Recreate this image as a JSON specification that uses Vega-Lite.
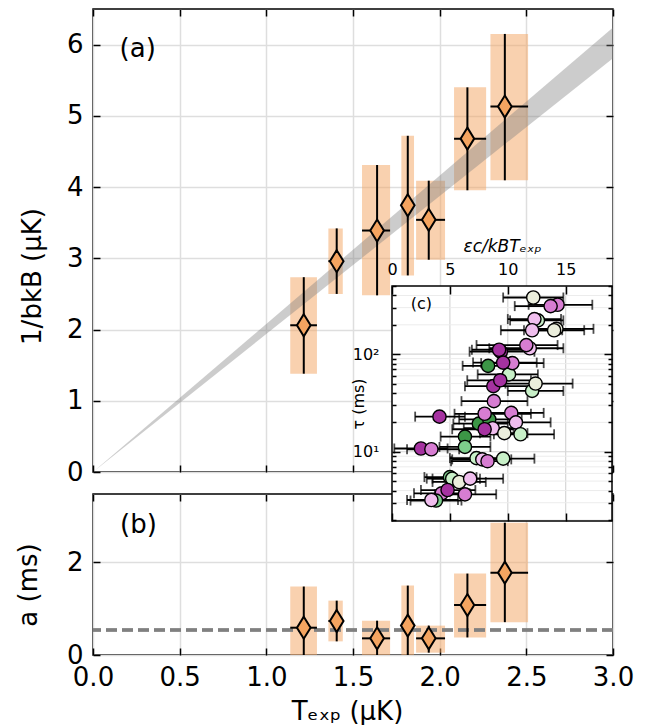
{
  "$schema": "https://vega.github.io/schema/vega-lite/v6.json",
  "padding": {"left": 14, "top": 7, "right": 5, "bottom": 5},
  "spacing": 22,
  "bounds": "flush",
  "config": {
    "font": "DejaVu Sans",
    "view": {"stroke": "black", "strokeWidth": 1.5},
    "axis": {
      "grid": false, "domain": false, "tickColor": "black", "tickWidth": 1.5, "tickSize": -7,
      "labelFontSize": 26, "labelColor": "black", "titleFontSize": 26, "titleFontWeight": "normal",
      "titleColor": "black", "labelFont": "DejaVu Sans", "titleFont": "DejaVu Sans",
      "gridColor": "#dedede", "gridWidth": 1.5, "labelPadding": 17, "labelFlush": false, "labelOverlap": false
    }
  },
  "datasets": {
    "pts": [
      {"T": 1.216, "xlo": 1.138, "xhi": 1.292, "b": 2.06, "blo": 1.38, "bhi": 2.735, "a": 0.59, "alo": -0.30, "ahi": 1.48},
      {"T": 1.406, "xlo": 1.358, "xhi": 1.441, "b": 2.96, "blo": 2.50, "bhi": 3.42, "a": 0.735, "alo": 0.295, "ahi": 1.175},
      {"T": 1.639, "xlo": 1.552, "xhi": 1.714, "b": 3.39, "blo": 2.48, "bhi": 4.31, "a": 0.36, "alo": -0.02, "ahi": 0.742},
      {"T": 1.816, "xlo": 1.779, "xhi": 1.852, "b": 3.745, "blo": 2.76, "bhi": 4.72, "a": 0.635, "alo": -0.23, "ahi": 1.50},
      {"T": 1.937, "xlo": 1.864, "xhi": 2.031, "b": 3.54, "blo": 2.98, "bhi": 4.09, "a": 0.36, "alo": 0.05, "ahi": 0.635},
      {"T": 2.160, "xlo": 2.083, "xhi": 2.268, "b": 4.68, "blo": 3.955, "bhi": 5.40, "a": 1.08, "alo": 0.38, "ahi": 1.76},
      {"T": 2.376, "xlo": 2.293, "xhi": 2.510, "b": 5.13, "blo": 4.095, "bhi": 6.15, "a": 1.78, "alo": 0.71, "ahi": 2.86}
    ],
    "band": [
      {"T": 0, "lo": 0, "hi": 0},
      {"T": 3, "lo": 5.81, "hi": 6.24}
    ],
    "inset": [
      {"eps": 12.2, "tau": 381, "lo": 9.6, "hi": 14.8, "g": 4},
      {"eps": 14.3, "tau": 321, "lo": 11.8, "hi": 17.3, "g": 2},
      {"eps": 13.7, "tau": 311, "lo": 10.6, "hi": 14.4, "g": 2},
      {"eps": 12.6, "tau": 222, "lo": 10.2, "hi": 14.8, "g": 5},
      {"eps": 12.3, "tau": 229, "lo": 10.0, "hi": 14.6, "g": 3},
      {"eps": 14.2, "tau": 182, "lo": 11.8, "hi": 17.4, "g": 4},
      {"eps": 14.0, "tau": 176, "lo": 11.4, "hi": 16.6, "g": 4},
      {"eps": 12.1, "tau": 176, "lo": 9.4, "hi": 14.7, "g": 3},
      {"eps": 11.9, "tau": 115, "lo": 8.4, "hi": 14.8, "g": 3},
      {"eps": 11.6, "tau": 124, "lo": 7.3, "hi": 14.3, "g": 2},
      {"eps": 9.4, "tau": 106, "lo": 6.7, "hi": 12.3, "g": 1},
      {"eps": 9.25, "tau": 111, "lo": 6.9, "hi": 11.8, "g": 1},
      {"eps": 8.3, "tau": 76, "lo": 6.1, "hi": 10.3, "g": 7},
      {"eps": 10.1, "tau": 62, "lo": 7.4, "hi": 12.6, "g": 5},
      {"eps": 10.4, "tau": 81, "lo": 7.7, "hi": 13.1, "g": 2},
      {"eps": 9.6, "tau": 82, "lo": 7.0, "hi": 12.5, "g": 1},
      {"eps": 8.75, "tau": 47, "lo": 6.3, "hi": 12.2, "g": 1},
      {"eps": 9.35, "tau": 54, "lo": 6.5, "hi": 12.0, "g": 1},
      {"eps": 12.1, "tau": 42, "lo": 10.0, "hi": 14.8, "g": 5},
      {"eps": 12.4, "tau": 50, "lo": 9.8, "hi": 15.6, "g": 4},
      {"eps": 8.8, "tau": 33, "lo": 6.0, "hi": 11.7, "g": 2},
      {"eps": 4.1, "tau": 22.9, "lo": 2.0, "hi": 6.3, "g": 1},
      {"eps": 7.5, "tau": 19.4, "lo": 5.3, "hi": 10.0, "g": 7},
      {"eps": 8.4, "tau": 21.5, "lo": 5.8, "hi": 11.2, "g": 7},
      {"eps": 8.0, "tau": 24.5, "lo": 5.4, "hi": 12.0, "g": 2},
      {"eps": 10.3, "tau": 25, "lo": 7.6, "hi": 13.1, "g": 2},
      {"eps": 10.7, "tau": 20, "lo": 8.0, "hi": 13.7, "g": 3},
      {"eps": 8.7, "tau": 17.4, "lo": 6.2, "hi": 11.0, "g": 3},
      {"eps": 8.0, "tau": 17.0, "lo": 5.2, "hi": 10.5, "g": 1},
      {"eps": 9.7, "tau": 15.5, "lo": 7.6, "hi": 11.7, "g": 4},
      {"eps": 11.1, "tau": 15.1, "lo": 8.8, "hi": 14.0, "g": 5},
      {"eps": 6.3, "tau": 14.3, "lo": 4.2, "hi": 8.5, "g": 7},
      {"eps": 6.3, "tau": 11.2, "lo": 4.1, "hi": 8.5, "g": 6},
      {"eps": 2.5, "tau": 10.8, "lo": 0.2, "hi": 4.8, "g": 1},
      {"eps": 3.4, "tau": 10.6, "lo": 1.3, "hi": 5.8, "g": 2},
      {"eps": 7.3, "tau": 8.6, "lo": 5.0, "hi": 9.8, "g": 5},
      {"eps": 7.8, "tau": 8.35, "lo": 5.2, "hi": 10.3, "g": 3},
      {"eps": 8.25, "tau": 8.0, "lo": 5.1, "hi": 10.0, "g": 2},
      {"eps": 9.6, "tau": 8.5, "lo": 7.4, "hi": 12.3, "g": 5},
      {"eps": 5.0, "tau": 5.5, "lo": 2.8, "hi": 7.3, "g": 6},
      {"eps": 5.2, "tau": 5.3, "lo": 3.0, "hi": 7.6, "g": 5},
      {"eps": 5.8, "tau": 4.9, "lo": 3.5, "hi": 8.1, "g": 4},
      {"eps": 6.75, "tau": 5.3, "lo": 3.5, "hi": 9.6, "g": 3},
      {"eps": 4.3, "tau": 3.75, "lo": 1.9, "hi": 6.7, "g": 2},
      {"eps": 4.8, "tau": 4.05, "lo": 2.5, "hi": 7.2, "g": 1},
      {"eps": 6.3, "tau": 3.66, "lo": 3.7, "hi": 9.0, "g": 2},
      {"eps": 3.8, "tau": 3.16, "lo": 1.6, "hi": 6.0, "g": 6},
      {"eps": 3.4, "tau": 3.2, "lo": 1.3, "hi": 5.7, "g": 3}
    ],
    "vgrid": [{"v": 5}, {"v": 10}, {"v": 15}],
    "hgridMinor": [{"v": 2}, {"v": 3}, {"v": 4}, {"v": 5}, {"v": 6}, {"v": 7}, {"v": 8}, {"v": 9}, {"v": 20}, {"v": 30}, {"v": 40}, {"v": 50}, {"v": 60}, {"v": 70}, {"v": 80}, {"v": 90}, {"v": 200}, {"v": 300}, {"v": 400}],
    "hgridMajor": [{"v": 10}, {"v": 100}]
  },
  "vconcat": [
    {
      "width": 520, "height": 463,
      "data": {"name": "pts"},
      "layer": [
        {
          "mark": {"type": "rect", "fill": "#f4a460", "opacity": 0.5},
          "encoding": {
            "x": {"field": "xlo", "type": "quantitative", "scale": {"domain": [0, 3], "nice": false, "zero": false},
                  "axis": {"orient": "bottom", "values": [0, 0.5, 1, 1.5, 2, 2.5, 3], "labels": false, "grid": true, "title": null}},
            "x2": {"field": "xhi"},
            "y": {"field": "blo", "type": "quantitative", "scale": {"domain": [0, 6.5], "nice": false, "zero": false},
                  "axis": {"orient": "left", "values": [0, 1, 2, 3, 4, 5, 6], "grid": true, "title": "1/bkB (μK)",
                           "titleX": -52.5, "titleY": 267, "titleBaseline": "alphabetic", "titleAngle": -90}},
            "y2": {"field": "bhi"}
          }
        },
        {
          "data": {"name": "band"},
          "mark": {"type": "area", "color": "#808080", "opacity": 0.4},
          "encoding": {
            "x": {"field": "T", "type": "quantitative", "axis": {"orient": "top", "values": [0, 0.5, 1, 1.5, 2, 2.5, 3], "labels": false, "title": null}},
            "y": {"field": "lo", "type": "quantitative", "axis": {"orient": "right", "values": [0, 1, 2, 3, 4, 5, 6], "labels": false, "title": null}},
            "y2": {"field": "hi"}
          }
        },
        {
          "mark": {"type": "rule", "color": "black", "strokeWidth": 2},
          "encoding": {
            "x": {"field": "T", "type": "quantitative", "axis": null},
            "y": {"field": "blo", "type": "quantitative", "axis": null},
            "y2": {"field": "bhi"}
          }
        },
        {
          "mark": {"type": "rule", "color": "black", "strokeWidth": 2},
          "encoding": {
            "x": {"field": "xlo", "type": "quantitative", "axis": null},
            "x2": {"field": "xhi"},
            "y": {"field": "b", "type": "quantitative", "axis": null}
          }
        },
        {
          "mark": {"type": "point", "shape": "M0,-1L0.62,0L0,1L-0.62,0Z", "filled": true, "fill": "#f4a460", "stroke": "black", "strokeWidth": 2, "size": 484, "opacity": 1},
          "encoding": {
            "x": {"field": "T", "type": "quantitative", "axis": null},
            "y": {"field": "b", "type": "quantitative", "axis": null}
          }
        },
        {
          "data": {"values": [{"lab": "(a)"}]},
          "mark": {"type": "text", "fontSize": 26, "align": "center", "baseline": "middle", "color": "black"},
          "encoding": {
            "text": {"field": "lab"},
            "x": {"datum": 0.258, "type": "quantitative", "axis": null},
            "y": {"datum": 5.94, "type": "quantitative", "axis": null}
          }
        }
      ],
      "resolve": {"axis": {"x": "independent", "y": "independent"}}
    },
    {
      "width": 520, "height": 161,
      "layer": [
        {
          "data": {"name": "pts"},
          "layer": [
            {
              "mark": {"type": "rect", "fill": "#f4a460", "opacity": 0.5, "clip": true},
              "encoding": {
                "x": {"field": "xlo", "type": "quantitative", "scale": {"domain": [0, 3], "nice": false, "zero": false},
                      "axis": {"orient": "bottom", "values": [0, 0.5, 1, 1.5, 2, 2.5, 3], "format": ".1f", "grid": true, "title": "Tₑₓₚ (μK)",
                               "labelPadding": 16.5, "titleY": 64, "titleX": 254, "titleBaseline": "alphabetic"}},
                "x2": {"field": "xhi"},
                "y": {"field": "alo", "type": "quantitative", "scale": {"domain": [0, 3.48], "nice": false, "zero": false},
                      "axis": {"orient": "left", "values": [0, 2], "grid": true, "title": "a (ms)",
                               "titleX": -57, "titleY": 90.5, "titleBaseline": "alphabetic", "titleAngle": -90}},
                "y2": {"field": "ahi"}
              }
            },
            {
              "mark": {"type": "rule", "color": "#808080", "strokeWidth": 2.5, "strokeDash": [11, 5]},
              "encoding": {
                "y": {"datum": 0.54, "type": "quantitative", "axis": null}
              }
            },
            {
              "mark": {"type": "rule", "color": "black", "strokeWidth": 2, "clip": true},
              "encoding": {
                "x": {"field": "T", "type": "quantitative", "axis": null},
                "y": {"field": "alo", "type": "quantitative", "axis": null},
                "y2": {"field": "ahi"}
              }
            },
            {
              "mark": {"type": "rule", "color": "black", "strokeWidth": 2},
              "encoding": {
                "x": {"field": "xlo", "type": "quantitative", "axis": null},
                "x2": {"field": "xhi"},
                "y": {"field": "a", "type": "quantitative", "axis": null}
              }
            },
            {
              "mark": {"type": "point", "shape": "M0,-1L0.62,0L0,1L-0.62,0Z", "filled": true, "fill": "#f4a460", "stroke": "black", "strokeWidth": 2, "size": 484, "opacity": 1},
              "encoding": {
                "x": {"field": "T", "type": "quantitative", "axis": {"orient": "top", "values": [0, 0.5, 1, 1.5, 2, 2.5, 3], "labels": false, "title": null}},
                "y": {"field": "a", "type": "quantitative", "axis": {"orient": "right", "values": [0, 2], "labels": false, "title": null}}
              }
            },
            {
              "data": {"values": [{"lab": "(b)"}]},
              "mark": {"type": "text", "fontSize": 26, "align": "center", "baseline": "middle", "color": "black"},
              "encoding": {
                "text": {"field": "lab"},
                "x": {"datum": 0.262, "type": "quantitative", "axis": null},
                "y": {"datum": 2.81, "type": "quantitative", "axis": null}
              }
            }
          ],
          "resolve": {"axis": {"x": "independent", "y": "independent"}}
        },
        {
          "data": {"name": "inset"},
          "layer": [
            {
              "data": {"values": [{"k": 1}]},
              "mark": {"type": "rect", "fill": "white", "stroke": null},
              "encoding": {
                "x": {"datum": 0, "type": "quantitative",
                      "scale": {"domain": [0, 19], "range": [299, 519], "nice": false, "zero": false},
                      "axis": {"orient": "bottom", "offset": -134, "values": [0, 5, 10, 15], "labels": false, "title": null, "tickSize": -8, "zindex": 1}},
                "x2": {"datum": 19},
                "y": {"datum": 1.95, "type": "quantitative",
                      "scale": {"type": "log", "domain": [1.95, 500], "range": [27, -208], "nice": false},
                      "axis": {"orient": "right", "offset": -1, "values": [2, 3, 4, 5, 6, 7, 8, 9, 10, 20, 30, 40, 50, 60, 70, 80, 90, 100, 200, 300, 400, 500],
                               "labels": false, "title": null, "zindex": 1,
                               "tickSize": {"condition": {"test": "datum.value == 10 || datum.value == 100", "value": -8}, "value": -4}}},
                "y2": {"datum": 500}
              }
            },
            {
              "data": {"name": "vgrid"},
              "mark": {"type": "rule", "color": "#d6d6d6", "strokeWidth": 1.2},
              "encoding": {
                "x": {"field": "v", "type": "quantitative", "axis": null},
                "y": {"datum": 1.95, "type": "quantitative", "axis": null},
                "y2": {"datum": 500}
              }
            },
            {
              "data": {"name": "hgridMinor"},
              "mark": {"type": "rule", "color": "#ececec", "strokeWidth": 1},
              "encoding": {
                "y": {"field": "v", "type": "quantitative", "axis": null},
                "x": {"datum": 0, "type": "quantitative", "axis": null},
                "x2": {"datum": 19}
              }
            },
            {
              "data": {"name": "hgridMajor"},
              "mark": {"type": "rule", "color": "#d6d6d6", "strokeWidth": 1.2},
              "encoding": {
                "y": {"field": "v", "type": "quantitative", "axis": null},
                "x": {"datum": 0, "type": "quantitative", "axis": null},
                "x2": {"datum": 19}
              }
            },
            {
              "mark": {"type": "rule", "color": "black", "strokeWidth": 1.8},
              "encoding": {
                "x": {"field": "lo", "type": "quantitative", "axis": null},
                "x2": {"field": "hi"},
                "y": {"field": "tau", "type": "quantitative", "axis": null}
              }
            },
            {
              "mark": {"type": "tick", "orient": "vertical", "color": "black", "size": 10, "thickness": 1.8},
              "encoding": {
                "x": {"field": "lo", "type": "quantitative", "axis": null},
                "y": {"field": "tau", "type": "quantitative", "axis": null}
              }
            },
            {
              "mark": {"type": "tick", "orient": "vertical", "color": "black", "size": 10, "thickness": 1.8},
              "encoding": {
                "x": {"field": "hi", "type": "quantitative", "axis": null},
                "y": {"field": "tau", "type": "quantitative", "axis": null}
              }
            },
            {
              "mark": {"type": "point", "shape": "circle", "filled": true, "size": 175, "stroke": "black", "strokeWidth": 1.4, "opacity": 1},
              "encoding": {
                "x": {"field": "eps", "type": "quantitative",
                      "axis": {"orient": "top", "offset": 208, "values": [0, 5, 10, 15], "tickSize": -8, "labelFontSize": 16, "labelPadding": 16.3,
                               "labelFlush": false, "labelOverlap": false, "labelBound": false,
                               "title": "εc/kBTₑₓₚ", "titleFontSize": 17, "titleFontStyle": "italic", "titleY": -35, "titleBaseline": "alphabetic", "zindex": 1}},
                "y": {"field": "tau", "type": "quantitative",
                      "axis": {"orient": "left", "offset": -299, "values": [2, 3, 4, 5, 6, 7, 8, 9, 10, 20, 30, 40, 50, 60, 70, 80, 90, 100, 200, 300, 400, 500],
                               "labelExpr": "datum.value == 10 ? '10¹' : (datum.value == 100 ? '10²' : '')",
                               "labelFontSize": 16, "labelPadding": 21,
                               "tickSize": {"condition": {"test": "datum.value == 10 || datum.value == 100", "value": -8}, "value": -4},
                               "title": "τ (ms)", "titleFontSize": 16, "titleX": -29, "titleBaseline": "alphabetic", "titleAngle": -90, "zindex": 1}},
                "fill": {"field": "g", "type": "nominal", "legend": null,
                         "scale": {"domain": [1, 2, 3, 4, 5, 6, 7], "range": ["#a532a0", "#d77dd2", "#f0beee", "#ebeedc", "#c8f0c8", "#7dcd8c", "#3c9646"]}}
              }
            },
            {
              "data": {"values": [{"k": 1}]},
              "mark": {"type": "rect", "filled": false, "stroke": "black", "strokeWidth": 1.5},
              "encoding": {
                "x": {"datum": 0, "type": "quantitative", "axis": null},
                "x2": {"datum": 19},
                "y": {"datum": 1.95, "type": "quantitative", "axis": null},
                "y2": {"datum": 500}
              }
            },
            {
              "data": {"values": [{"lab": "(c)"}]},
              "mark": {"type": "text", "fontSize": 16, "align": "center", "baseline": "middle", "color": "black"},
              "encoding": {
                "text": {"field": "lab"},
                "x": {"datum": 2.54, "type": "quantitative", "axis": null},
                "y": {"datum": 325, "type": "quantitative", "axis": null}
              }
            }
          ],
          "resolve": {"axis": {"x": "independent", "y": "independent"}}
        }
      ],
      "resolve": {"scale": {"x": "independent", "y": "independent", "fill": "independent"}, "axis": {"x": "independent", "y": "independent"}}
    }
  ]
}
